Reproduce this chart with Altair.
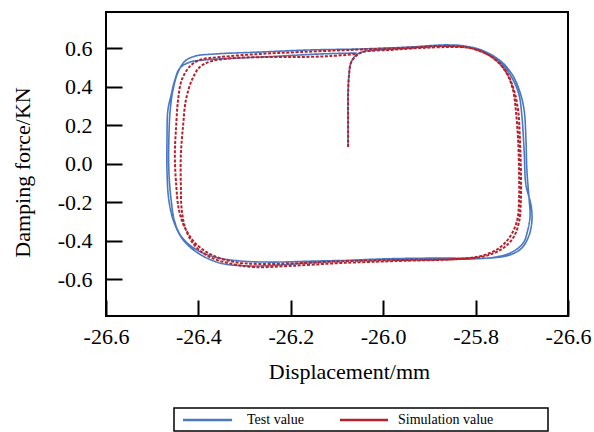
import altair as alt
import pandas as pd

# ---- data (displacement in mm, force in kN) ----
test_x = [-26.076, -26.076, -26.076, -26.074, -26.070, -26.061, -26.046, -26.007, -25.942, -25.877,
          -25.834, -25.801, -25.769, -25.741, -25.719, -25.704, -25.695, -25.691, -25.689, -25.684,
          -25.682, -25.687, -25.697, -25.721, -25.758, -25.812, -25.920, -26.029, -26.137, -26.245,
          -26.310, -26.364, -26.407, -26.436, -26.451, -26.459, -26.464, -26.464, -26.461, -26.455,
          -26.444, -26.429, -26.407, -26.364, -26.267, -26.158, -26.050, -25.942, -25.866, -25.823,
          -25.780, -25.747, -25.721, -25.706, -25.700, -25.695, -25.691, -25.680, -25.678, -25.684,
          -25.700, -25.726, -25.769, -25.877, -26.007, -26.137, -26.223, -26.288, -26.353, -26.401,
          -26.433, -26.453, -26.464, -26.468, -26.468, -26.466, -26.459, -26.451, -26.440, -26.418,
          -26.386, -26.310, -26.223, -26.137, -26.057]
test_y = [0.086, 0.226, 0.356, 0.460, 0.522, 0.558, 0.579, 0.590, 0.600, 0.610,
          0.610, 0.600, 0.569, 0.522, 0.455, 0.371, 0.278, 0.122, -0.034, -0.190,
          -0.268, -0.345, -0.413, -0.460, -0.486, -0.496, -0.496, -0.501, -0.506, -0.512,
          -0.506, -0.486, -0.444, -0.382, -0.304, -0.190, -0.034, 0.122, 0.278, 0.382,
          0.475, 0.532, 0.558, 0.569, 0.579, 0.590, 0.595, 0.605, 0.616, 0.610,
          0.579, 0.527, 0.444, 0.356, 0.252, 0.070, -0.112, -0.216, -0.294, -0.371,
          -0.439, -0.475, -0.491, -0.491, -0.496, -0.512, -0.527, -0.532, -0.517, -0.465,
          -0.397, -0.304, -0.190, -0.034, 0.122, 0.278, 0.356, 0.434, 0.496, 0.527,
          0.538, 0.548, 0.558, 0.569, 0.574]

sim_x = [-26.076, -26.076, -26.076, -26.074, -26.070, -26.059, -26.044, -25.985, -25.920, -25.855,
         -25.812, -25.780, -25.752, -25.732, -25.719, -25.713, -25.708, -25.706, -25.706, -25.710,
         -25.726, -25.752, -25.790, -25.845, -25.964, -26.072, -26.180, -26.267, -26.321, -26.371,
         -26.405, -26.429, -26.442, -26.448, -26.451, -26.448, -26.444, -26.436, -26.418, -26.397,
         -26.353, -26.267, -26.180, -26.072, -25.964, -25.877, -25.823, -25.786, -25.756, -25.732,
         -25.717, -25.708, -25.704, -25.702, -25.702, -25.706, -25.719, -25.743, -25.780, -25.834,
         -25.964, -26.094, -26.202, -26.278, -26.327, -26.375, -26.407, -26.427, -26.436, -26.438,
         -26.438, -26.433, -26.427, -26.414, -26.397, -26.371, -26.321, -26.245, -26.180, -26.115,
         -26.057]
sim_y = [0.086, 0.226, 0.356, 0.460, 0.522, 0.558, 0.579, 0.590, 0.600, 0.605,
         0.600, 0.574, 0.527, 0.465, 0.382, 0.278, 0.122, -0.034, -0.190, -0.294,
         -0.382, -0.444, -0.481, -0.496, -0.501, -0.506, -0.517, -0.522, -0.512, -0.475,
         -0.418, -0.335, -0.242, -0.112, 0.044, 0.200, 0.330, 0.434, 0.506, 0.538,
         0.553, 0.569, 0.579, 0.590, 0.600, 0.610, 0.605, 0.579, 0.538, 0.470,
         0.382, 0.278, 0.122, -0.034, -0.190, -0.304, -0.387, -0.444, -0.481, -0.496,
         -0.506, -0.517, -0.532, -0.538, -0.522, -0.486, -0.429, -0.345, -0.242, -0.112,
         0.044, 0.200, 0.330, 0.434, 0.501, 0.532, 0.548, 0.553, 0.553, 0.558,
         0.569]

series_names = ["Test value", "Simulation value"]
series_colors = ["#4a78c2", "#b8202c"]

x_ticks = [-26.6, -26.4, -26.2, -26.0, -25.8, -25.6]
x_tick_labels = ["-26.6", "-26.4", "-26.2", "-26.0", "-25.8", "-26.6"]
y_ticks = [-0.6, -0.4, -0.2, 0.0, 0.2, 0.4, 0.6]
y_tick_labels = ["-0.6", "-0.4", "-0.2", "0.0", "0.2", "0.4", "0.6"]

rows = []
for i, (xv, yv) in enumerate(zip(test_x, test_y)):
    rows.append({"series": series_names[0], "order": i, "x": xv, "y": yv})
for i, (xv, yv) in enumerate(zip(sim_x, sim_y)):
    rows.append({"series": series_names[1], "order": i, "x": xv, "y": yv})
df = pd.DataFrame(rows)
legend_df = pd.DataFrame({"series": series_names})


def label_expr(vals, labels):
    expr = "''"
    for v, l in reversed(list(zip(vals, labels))):
        expr = f"abs(datum.value - ({v})) < 1e-6 ? '{l}' : ({expr})"
    return expr


FONT = "Liberation Serif"

x_enc = alt.X(
    "x:Q",
    scale=alt.Scale(domain=[-26.6, -25.6], nice=False, zero=False),
    axis=alt.Axis(
        values=x_ticks, labelExpr=label_expr(x_ticks, x_tick_labels),
        title="Displacement/mm", offset=-16, tickSize=16, tickWidth=2,
        domain=False, grid=False, labelPadding=10, labelFlush=False,
        labelOverlap=False, titleX=243, titleY=78, titleBaseline="alphabetic",
        titleAlign="center",
    ),
)
y_enc = alt.Y(
    "y:Q",
    scale=alt.Scale(domain=[-0.792, 0.787], nice=False, zero=False),
    axis=alt.Axis(
        values=y_ticks, labelExpr=label_expr(y_ticks, y_tick_labels),
        title="Damping force/KN", offset=-16, tickSize=16, tickWidth=2,
        domain=False, grid=False, labelPadding=14, labelFlush=False,
        labelOverlap=False, titleX=-100, titleY=160, titleAngle=270,
        titleAlign="center", titleBaseline="middle",
    ),
)

color_scale = alt.Scale(domain=series_names, range=series_colors)
color_enc = alt.Color("series:N", scale=color_scale, legend=None)
dash_enc = alt.StrokeDash(
    "series:N",
    scale=alt.Scale(domain=series_names, range=[[1, 0], [3, 1.6]]),
    legend=None,
)

base = alt.Chart(df).encode(x=x_enc, y=y_enc, color=color_enc, strokeDash=dash_enc, order="order:Q")

test_layer = base.transform_filter(alt.datum.series == series_names[0]).mark_line(
    strokeWidth=1.6, interpolate="catmull-rom")
sim_layer = base.transform_filter(alt.datum.series == series_names[1]).mark_line(
    strokeWidth=2, interpolate="catmull-rom")

# ---- manual legend (box, line samples, labels) below the plot ----
leg = alt.Chart(legend_df)
leg_box = leg.transform_filter(alt.datum.series == series_names[0]).mark_rect(
    fill="white", stroke="black", strokeWidth=1.5
).encode(x=alt.value(68), x2=alt.value(442), y=alt.value(396), y2=alt.value(419))

leg_line_test = leg.transform_filter(alt.datum.series == series_names[0]).mark_rule(
    strokeWidth=2.5
).encode(x=alt.value(77), x2=alt.value(126), y=alt.value(408),
         color=alt.Color("series:N", scale=color_scale, legend=None))
leg_line_sim = leg.transform_filter(alt.datum.series == series_names[1]).mark_rule(
    strokeWidth=2.5
).encode(x=alt.value(234), x2=alt.value(282), y=alt.value(408),
         color=alt.Color("series:N", scale=color_scale, legend=None))
leg_text_test = leg.transform_filter(alt.datum.series == series_names[0]).mark_text(
    font=FONT, fontSize=14, align="left", baseline="middle", color="black"
).encode(x=alt.value(141), y=alt.value(408), text="series:N")
leg_text_sim = leg.transform_filter(alt.datum.series == series_names[1]).mark_text(
    font=FONT, fontSize=14, align="left", baseline="middle", color="black"
).encode(x=alt.value(292), y=alt.value(408), text="series:N")

chart = alt.layer(
    test_layer, sim_layer, leg_box, leg_line_test, leg_line_sim, leg_text_test, leg_text_sim
).properties(
    width=462, height=304,
    autosize=alt.AutoSizeParams(type="none"),
    padding={"left": 106, "top": 12, "right": 26, "bottom": 116},
    background="white",
).configure_view(
    stroke="black", strokeWidth=2
).configure_axis(
    labelFont=FONT, labelFontSize=22, labelColor="black",
    titleFont=FONT, titleFontSize=22, titleColor="black", titleFontWeight="normal",
    tickColor="black",
)

chart.save("out.html", embed_options={"renderer": "svg", "actions": False})
